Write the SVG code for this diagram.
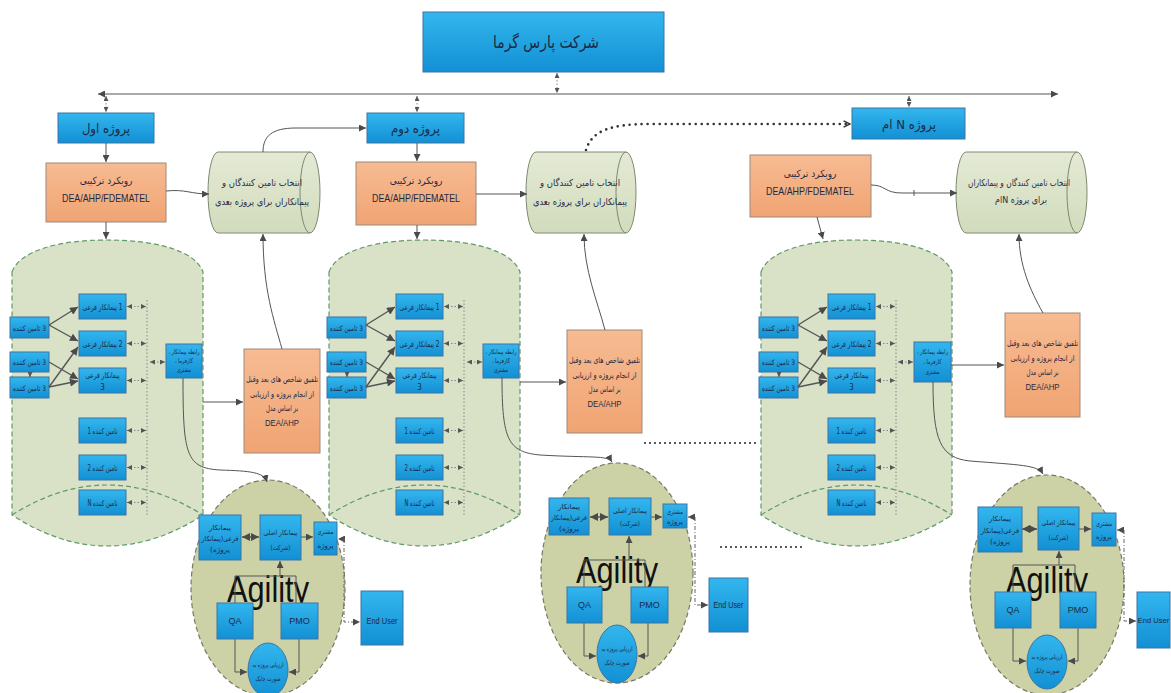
<svg xmlns="http://www.w3.org/2000/svg" width="1171" height="693" viewBox="0 0 1171 693">
<defs>
<linearGradient id="gBlue" x1="0" y1="0" x2="0" y2="1"><stop offset="0" stop-color="#33b6ee"/><stop offset="1" stop-color="#1290d4"/></linearGradient>
<linearGradient id="gOr" x1="0" y1="0" x2="0" y2="1"><stop offset="0" stop-color="#f7bb92"/><stop offset="1" stop-color="#f0a473"/></linearGradient>
<linearGradient id="gCy" x1="0" y1="0" x2="0" y2="1"><stop offset="0" stop-color="#e4ead5"/><stop offset="1" stop-color="#d2dbbc"/></linearGradient>
<marker id="ah" viewBox="0 0 10 10" refX="10" refY="5" markerWidth="7" markerHeight="7" markerUnits="userSpaceOnUse" orient="auto-start-reverse"><path d="M0,0 L10,5 L0,10 Z" fill="#4a4a4a"/></marker>
<marker id="ahB" viewBox="0 0 10 10" refX="10" refY="5" markerWidth="9" markerHeight="8" markerUnits="userSpaceOnUse" orient="auto-start-reverse"><path d="M0,0 L10,5 L0,10 Z" fill="#4a4a4a"/></marker>
<marker id="ahS" viewBox="0 0 10 10" refX="10" refY="5" markerWidth="5" markerHeight="5" markerUnits="userSpaceOnUse" orient="auto-start-reverse"><path d="M0,0 L10,5 L0,10 Z" fill="#555"/></marker>
<marker id="chev" viewBox="0 0 10 10" refX="9" refY="5" markerWidth="8" markerHeight="10" markerUnits="userSpaceOnUse" orient="auto"><path d="M1,1 L9,5 L1,9" fill="none" stroke="#333" stroke-width="1.8"/></marker>
<style>
.bx{fill:url(#gBlue);stroke:#3b74a3;stroke-width:1}
.or{fill:url(#gOr);stroke:#9c8a7c;stroke-width:1}
.cy{fill:url(#gCy);stroke:#7d8a72;stroke-width:1}
.gs{fill:#d9e1c7;stroke:#5f9a68;stroke-width:1.2;stroke-dasharray:5 3}
.ga{fill:none;stroke:#5f9a68;stroke-width:1.2;stroke-dasharray:5 3}
.ag{fill:#cdd2a6;stroke:#787868;stroke-width:1.2;stroke-dasharray:5 3}
.fa{font-family:'DejaVu Sans Condensed','DejaVu Sans','Noto Sans',sans-serif;fill:#1d2a44;text-anchor:middle}
.la{font-family:'Liberation Sans',Arial,sans-serif;fill:#1d2a44;text-anchor:middle}
.ln{fill:none;stroke:#555;stroke-width:1}
.th{fill:none;stroke:#555;stroke-width:1.4}
.dt{fill:none;stroke:#888;stroke-width:1;stroke-dasharray:1.5 2}
.dd{fill:none;stroke:#666;stroke-width:1;stroke-dasharray:4 2 1 2}
.bd{fill:none;stroke:#333;stroke-width:2.6;stroke-linecap:round;stroke-dasharray:0 6}
</style>
</defs>
<rect width="1171" height="693" fill="#ffffff"/>

<!-- clusters -->
<g id="cluster1">
 <path class="gs" d="M12,272 C20,250 60,240 107,240 C154,240 195,250 203,272 L203,515 Q107,577 12,515 Z"/>
 <path class="ga" d="M12,515 Q107,455 203,515"/>
 <path class="dt" d="M147,300 V515"/>
 <g id="c1-s3a"><rect class="bx" x="10" y="317" width="39" height="21"/><text class="fa" x="29.5" y="330.5" font-size="7.5" textLength="33" lengthAdjust="spacingAndGlyphs">تامین کننده&#x200E; 3</text></g>
 <g id="c1-s3b"><rect class="bx" x="10" y="352" width="39" height="20"/><text class="fa" x="29.5" y="365" font-size="7.5" textLength="33" lengthAdjust="spacingAndGlyphs">تامین کننده&#x200E; 3</text></g>
 <g id="c1-s3c"><rect class="bx" x="10" y="377" width="39" height="21"/><text class="fa" x="29.5" y="390.5" font-size="7.5" textLength="33" lengthAdjust="spacingAndGlyphs">تامین کننده&#x200E; 3</text></g>
 <g id="c1-p1"><rect class="bx" x="79" y="294" width="47" height="25"/><text class="fa" x="102.5" y="309.5" font-size="8" textLength="40" lengthAdjust="spacingAndGlyphs">پیمانکار فرعی&#x200E; 1</text></g>
 <g id="c1-p2"><rect class="bx" x="79" y="331" width="47" height="25"/><text class="fa" x="102.5" y="346.5" font-size="8" textLength="40" lengthAdjust="spacingAndGlyphs">پیمانکار فرعی&#x200E; 2</text></g>
 <g id="c1-p3"><rect class="bx" x="79" y="368" width="47" height="25"/><text class="fa" x="102.5" y="378" font-size="8" textLength="34" lengthAdjust="spacingAndGlyphs">پیمانکار فرعی</text><text class="fa" x="102.5" y="390" font-size="8">3</text></g>
 <g id="c1-t1"><rect class="bx" x="79" y="418" width="47" height="25"/><text class="fa" x="102.5" y="433.5" font-size="8" textLength="30" lengthAdjust="spacingAndGlyphs" direction="rtl">تامین کننده 1</text></g>
 <g id="c1-t2"><rect class="bx" x="79" y="455" width="47" height="25"/><text class="fa" x="102.5" y="470.5" font-size="8" textLength="30" lengthAdjust="spacingAndGlyphs" direction="rtl">تامین کننده 2</text></g>
 <g id="c1-tn"><rect class="bx" x="79" y="490" width="47" height="25"/><text class="fa" x="102.5" y="505.5" font-size="8" textLength="30" lengthAdjust="spacingAndGlyphs" direction="rtl">تامین کننده N</text></g>
 <g id="c1-rel"><rect class="bx" x="166" y="344" width="36" height="34"/><text class="fa" x="184" y="354" font-size="6.5" textLength="31" lengthAdjust="spacingAndGlyphs" direction="rtl">رابطه پیمانکار ،</text><text class="fa" x="184" y="363" font-size="6.5" textLength="18" lengthAdjust="spacingAndGlyphs" direction="rtl">کارفرما ،</text><text class="fa" x="184" y="372" font-size="6.5" textLength="14" lengthAdjust="spacingAndGlyphs">مشتری</text></g>
 <g id="c1-links">
  <path class="th" marker-end="url(#ahB)" d="M49,325 L78,307"/>
  <path class="th" marker-end="url(#ahB)" d="M49,325 L78,341"/>
  <path class="th" marker-end="url(#ahB)" d="M49,362 L78,379"/>
  <path class="th" marker-end="url(#ahB)" d="M49,387 L78,347"/>
  <path class="th" marker-end="url(#ahB)" d="M49,387 L78,381"/>
  <path class="ln" marker-end="url(#ahS)" d="M30,372 V377"/>
  <path class="dt" marker-start="url(#ahS)" marker-end="url(#ahS)" d="M127,306.5 H146"/>
  <path class="dt" marker-start="url(#ahS)" marker-end="url(#ahS)" d="M127,343.5 H146"/>
  <path class="dt" marker-start="url(#ahS)" marker-end="url(#ahS)" d="M127,380.5 H146"/>
  <path class="dt" marker-start="url(#ahS)" marker-end="url(#ahS)" d="M127,430.5 H146"/>
  <path class="dt" marker-start="url(#ahS)" marker-end="url(#ahS)" d="M127,467.5 H146"/>
  <path class="dt" marker-start="url(#ahS)" marker-end="url(#ahS)" d="M127,502.5 H146"/>
  <path class="dt" marker-start="url(#ahS)" marker-end="url(#ahS)" d="M150,362 H165"/>
 </g>
</g>

<g id="cluster2" transform="translate(317,0)">
 <path class="gs" d="M12,272 C20,250 60,240 107,240 C154,240 195,250 203,272 L203,515 Q107,577 12,515 Z"/>
 <path class="ga" d="M12,515 Q107,455 203,515"/>
 <path class="dt" d="M147,300 V515"/>
 <g id="c2-s3a"><rect class="bx" x="10" y="317" width="39" height="21"/><text class="fa" x="29.5" y="330.5" font-size="7.5" textLength="33" lengthAdjust="spacingAndGlyphs">تامین کننده&#x200E; 3</text></g>
 <g id="c2-s3b"><rect class="bx" x="10" y="352" width="39" height="20"/><text class="fa" x="29.5" y="365" font-size="7.5" textLength="33" lengthAdjust="spacingAndGlyphs">تامین کننده&#x200E; 3</text></g>
 <g id="c2-s3c"><rect class="bx" x="10" y="377" width="39" height="21"/><text class="fa" x="29.5" y="390.5" font-size="7.5" textLength="33" lengthAdjust="spacingAndGlyphs">تامین کننده&#x200E; 3</text></g>
 <g id="c2-p1"><rect class="bx" x="79" y="294" width="47" height="25"/><text class="fa" x="102.5" y="309.5" font-size="8" textLength="40" lengthAdjust="spacingAndGlyphs">پیمانکار فرعی&#x200E; 1</text></g>
 <g id="c2-p2"><rect class="bx" x="79" y="331" width="47" height="25"/><text class="fa" x="102.5" y="346.5" font-size="8" textLength="40" lengthAdjust="spacingAndGlyphs">پیمانکار فرعی&#x200E; 2</text></g>
 <g id="c2-p3"><rect class="bx" x="79" y="368" width="47" height="25"/><text class="fa" x="102.5" y="378" font-size="8" textLength="34" lengthAdjust="spacingAndGlyphs">پیمانکار فرعی</text><text class="fa" x="102.5" y="390" font-size="8">3</text></g>
 <g id="c2-t1"><rect class="bx" x="79" y="418" width="47" height="25"/><text class="fa" x="102.5" y="433.5" font-size="8" textLength="30" lengthAdjust="spacingAndGlyphs" direction="rtl">تامین کننده 1</text></g>
 <g id="c2-t2"><rect class="bx" x="79" y="455" width="47" height="25"/><text class="fa" x="102.5" y="470.5" font-size="8" textLength="30" lengthAdjust="spacingAndGlyphs" direction="rtl">تامین کننده 2</text></g>
 <g id="c2-tn"><rect class="bx" x="79" y="490" width="47" height="25"/><text class="fa" x="102.5" y="505.5" font-size="8" textLength="30" lengthAdjust="spacingAndGlyphs" direction="rtl">تامین کننده N</text></g>
 <g id="c2-rel"><rect class="bx" x="166" y="344" width="36" height="34"/><text class="fa" x="184" y="354" font-size="6.5" textLength="31" lengthAdjust="spacingAndGlyphs" direction="rtl">رابطه پیمانکار ،</text><text class="fa" x="184" y="363" font-size="6.5" textLength="18" lengthAdjust="spacingAndGlyphs" direction="rtl">کارفرما ،</text><text class="fa" x="184" y="372" font-size="6.5" textLength="14" lengthAdjust="spacingAndGlyphs">مشتری</text></g>
 <g id="c2-links">
  <path class="th" marker-end="url(#ahB)" d="M49,325 L78,307"/>
  <path class="th" marker-end="url(#ahB)" d="M49,325 L78,341"/>
  <path class="th" marker-end="url(#ahB)" d="M49,362 L78,379"/>
  <path class="th" marker-end="url(#ahB)" d="M49,387 L78,347"/>
  <path class="th" marker-end="url(#ahB)" d="M49,387 L78,381"/>
  <path class="ln" marker-end="url(#ahS)" d="M30,372 V377"/>
  <path class="dt" marker-start="url(#ahS)" marker-end="url(#ahS)" d="M127,306.5 H146"/>
  <path class="dt" marker-start="url(#ahS)" marker-end="url(#ahS)" d="M127,343.5 H146"/>
  <path class="dt" marker-start="url(#ahS)" marker-end="url(#ahS)" d="M127,380.5 H146"/>
  <path class="dt" marker-start="url(#ahS)" marker-end="url(#ahS)" d="M127,430.5 H146"/>
  <path class="dt" marker-start="url(#ahS)" marker-end="url(#ahS)" d="M127,467.5 H146"/>
  <path class="dt" marker-start="url(#ahS)" marker-end="url(#ahS)" d="M127,502.5 H146"/>
  <path class="dt" marker-start="url(#ahS)" marker-end="url(#ahS)" d="M150,362 H165"/>
 </g>
</g>

<g id="cluster3" transform="translate(749,0)">
 <path class="gs" d="M12,272 C20,250 60,240 107,240 C154,240 195,250 203,272 L203,515 Q107,577 12,515 Z"/>
 <path class="ga" d="M12,515 Q107,455 203,515"/>
 <path class="dt" d="M147,300 V515"/>
 <g id="c3-s3a"><rect class="bx" x="10" y="317" width="39" height="21"/><text class="fa" x="29.5" y="330.5" font-size="7.5" textLength="33" lengthAdjust="spacingAndGlyphs">تامین کننده&#x200E; 3</text></g>
 <g id="c3-s3b"><rect class="bx" x="10" y="352" width="39" height="20"/><text class="fa" x="29.5" y="365" font-size="7.5" textLength="33" lengthAdjust="spacingAndGlyphs">تامین کننده&#x200E; 3</text></g>
 <g id="c3-s3c"><rect class="bx" x="10" y="377" width="39" height="21"/><text class="fa" x="29.5" y="390.5" font-size="7.5" textLength="33" lengthAdjust="spacingAndGlyphs">تامین کننده&#x200E; 3</text></g>
 <g id="c3-p1"><rect class="bx" x="79" y="294" width="47" height="25"/><text class="fa" x="102.5" y="309.5" font-size="8" textLength="40" lengthAdjust="spacingAndGlyphs">پیمانکار فرعی&#x200E; 1</text></g>
 <g id="c3-p2"><rect class="bx" x="79" y="331" width="47" height="25"/><text class="fa" x="102.5" y="346.5" font-size="8" textLength="40" lengthAdjust="spacingAndGlyphs">پیمانکار فرعی&#x200E; 2</text></g>
 <g id="c3-p3"><rect class="bx" x="79" y="368" width="47" height="25"/><text class="fa" x="102.5" y="378" font-size="8" textLength="34" lengthAdjust="spacingAndGlyphs">پیمانکار فرعی</text><text class="fa" x="102.5" y="390" font-size="8">3</text></g>
 <g id="c3-t1"><rect class="bx" x="79" y="418" width="47" height="25"/><text class="fa" x="102.5" y="433.5" font-size="8" textLength="30" lengthAdjust="spacingAndGlyphs" direction="rtl">تامین کننده 1</text></g>
 <g id="c3-t2"><rect class="bx" x="79" y="455" width="47" height="25"/><text class="fa" x="102.5" y="470.5" font-size="8" textLength="30" lengthAdjust="spacingAndGlyphs" direction="rtl">تامین کننده 2</text></g>
 <g id="c3-tn"><rect class="bx" x="79" y="490" width="47" height="25"/><text class="fa" x="102.5" y="505.5" font-size="8" textLength="30" lengthAdjust="spacingAndGlyphs" direction="rtl">تامین کننده N</text></g>
 <g id="c3-rel"><rect class="bx" x="165" y="342" width="37" height="40"/><text class="fa" x="183.5" y="354" font-size="6.5" textLength="31" lengthAdjust="spacingAndGlyphs" direction="rtl">رابطه پیمانکار ،</text><text class="fa" x="183.5" y="364" font-size="6.5" textLength="18" lengthAdjust="spacingAndGlyphs" direction="rtl">کارفرما ،</text><text class="fa" x="183.5" y="374" font-size="6.5" textLength="14" lengthAdjust="spacingAndGlyphs">مشتری</text></g>
 <g id="c3-links">
  <path class="th" marker-end="url(#ahB)" d="M49,325 L78,307"/>
  <path class="th" marker-end="url(#ahB)" d="M49,325 L78,341"/>
  <path class="th" marker-end="url(#ahB)" d="M49,362 L78,379"/>
  <path class="th" marker-end="url(#ahB)" d="M49,387 L78,347"/>
  <path class="th" marker-end="url(#ahB)" d="M49,387 L78,381"/>
  <path class="ln" marker-end="url(#ahS)" d="M30,372 V377"/>
  <path class="dt" marker-start="url(#ahS)" marker-end="url(#ahS)" d="M127,306.5 H146"/>
  <path class="dt" marker-start="url(#ahS)" marker-end="url(#ahS)" d="M127,343.5 H146"/>
  <path class="dt" marker-start="url(#ahS)" marker-end="url(#ahS)" d="M127,380.5 H146"/>
  <path class="dt" marker-start="url(#ahS)" marker-end="url(#ahS)" d="M127,430.5 H146"/>
  <path class="dt" marker-start="url(#ahS)" marker-end="url(#ahS)" d="M127,467.5 H146"/>
  <path class="dt" marker-start="url(#ahS)" marker-end="url(#ahS)" d="M127,502.5 H146"/>
  <path class="dt" marker-start="url(#ahS)" marker-end="url(#ahS)" d="M149,362 H164"/>
 </g>
</g>

<!-- agility ellipses -->
<g id="agility1" transform="translate(268,482)">
 <ellipse class="ag" cx="0" cy="106" rx="77" ry="108"/>
 <text class="la" x="0" y="120" font-size="36" style="fill:#111" textLength="82" lengthAdjust="spacingAndGlyphs">Agility</text>
 <path class="ln" d="M-33,121 V94 H28 V121"/>
 <path class="ln" marker-end="url(#ah)" d="M12,94 V79"/>
 <path class="ln" marker-end="url(#ah)" d="M-33,157 V190 H-21"/>
 <path class="ln" marker-end="url(#ah)" d="M31,157 V190 H21"/>
 <path class="th" marker-start="url(#ahB)" marker-end="url(#ahB)" d="M-26,55 H-9"/>
 <path class="ln" marker-end="url(#ah)" d="M33,55 H45"/>
 <path class="dd" marker-end="url(#ah)" d="M76,57 H70"/>
 <path class="dd" marker-end="url(#ah)" d="M76,57 V140 H92"/>
 <g id="a1-sub"><rect class="bx" x="-69" y="33" width="42" height="45"/><text class="fa" x="-48" y="47.5" font-size="7" textLength="22" lengthAdjust="spacingAndGlyphs">پیمانکار</text><text class="fa" x="-48" y="58.5" font-size="7" textLength="37" lengthAdjust="spacingAndGlyphs" direction="rtl">فرعی(پیمانکار</text><text class="fa" x="-48" y="69.5" font-size="7" textLength="20" lengthAdjust="spacingAndGlyphs" direction="rtl">پروژه)</text></g>
 <g id="a1-main"><rect class="bx" x="-8" y="33" width="41" height="45"/><text class="fa" x="12.5" y="52.5" font-size="7" textLength="34" lengthAdjust="spacingAndGlyphs">پیمانکار اصلی</text><text class="fa" x="12.5" y="67.5" font-size="7" textLength="20" lengthAdjust="spacingAndGlyphs" direction="rtl">(شرکت)</text></g>
 <g id="a1-cust"><rect class="bx" x="46" y="40" width="23" height="33"/><text class="fa" x="57.5" y="52" font-size="7" textLength="16" lengthAdjust="spacingAndGlyphs">مشتری</text><text class="fa" x="57.5" y="65.5" font-size="7" textLength="16" lengthAdjust="spacingAndGlyphs">پروژه</text></g>
 <g id="a1-qa"><rect class="bx" x="-51" y="121" width="36" height="36"/><text class="la" x="-33" y="142" font-size="9">QA</text></g>
 <g id="a1-pmo"><rect class="bx" x="13" y="121" width="37" height="36"/><text class="la" x="31.5" y="142" font-size="9">PMO</text></g>
 <g id="a1-eval"><ellipse class="bx" cx="0" cy="188" rx="20" ry="27"/><text class="fa" x="0" y="185" font-size="6.5" textLength="31" lengthAdjust="spacingAndGlyphs">ارزیابی پروژه به</text><text class="fa" x="0" y="199" font-size="6.5" textLength="25" lengthAdjust="spacingAndGlyphs">صورت چابک</text></g>
 <g id="a1-enduser"><rect class="bx" x="93" y="109" width="42" height="54"/><text class="la" x="114" y="142" font-size="9" textLength="31" lengthAdjust="spacingAndGlyphs">End User</text></g>
</g>

<g id="agility2" transform="translate(617,463)">
 <ellipse class="ag" cx="0" cy="110" rx="76" ry="110"/>
 <text class="la" x="0" y="120" font-size="36" style="fill:#111" textLength="82" lengthAdjust="spacingAndGlyphs">Agility</text>
 <path class="ln" d="M-33,124 V97 H28 V124"/>
 <path class="ln" marker-end="url(#ah)" d="M12,97 V73"/>
 <path class="ln" marker-end="url(#ah)" d="M-33,160 V193 H-21"/>
 <path class="ln" marker-end="url(#ah)" d="M31,160 V193 H21"/>
 <path class="th" marker-start="url(#ahB)" marker-end="url(#ahB)" d="M-27,54 H-9"/>
 <path class="ln" marker-end="url(#ah)" d="M34,54 H45"/>
 <path class="dd" marker-end="url(#ah)" d="M78,54 H71"/>
 <path class="dd" marker-end="url(#ah)" d="M78,54 V142 H91"/>
 <g id="a2-sub"><rect class="bx" x="-68" y="35" width="40" height="37"/><text class="fa" x="-48" y="46" font-size="7" textLength="22" lengthAdjust="spacingAndGlyphs">پیمانکار</text><text class="fa" x="-48" y="57" font-size="7" textLength="36" lengthAdjust="spacingAndGlyphs" direction="rtl">فرعی(پیمانکار</text><text class="fa" x="-48" y="68" font-size="7" textLength="20" lengthAdjust="spacingAndGlyphs" direction="rtl">پروژه)</text></g>
 <g id="a2-main"><rect class="bx" x="-8" y="35" width="42" height="37"/><text class="fa" x="13" y="50" font-size="7" textLength="34" lengthAdjust="spacingAndGlyphs">پیمانکار اصلی</text><text class="fa" x="13" y="63" font-size="7" textLength="20" lengthAdjust="spacingAndGlyphs" direction="rtl">(شرکت)</text></g>
 <g id="a2-cust"><rect class="bx" x="46" y="41" width="24" height="24"/><text class="fa" x="58" y="51" font-size="7" textLength="16" lengthAdjust="spacingAndGlyphs">مشتری</text><text class="fa" x="58" y="61" font-size="7" textLength="16" lengthAdjust="spacingAndGlyphs">پروژه</text></g>
 <g id="a2-qa"><rect class="bx" x="-50" y="124" width="35" height="36"/><text class="la" x="-32.5" y="145" font-size="9">QA</text></g>
 <g id="a2-pmo"><rect class="bx" x="14" y="124" width="37" height="36"/><text class="la" x="32.5" y="145" font-size="9">PMO</text></g>
 <g id="a2-eval"><ellipse class="bx" cx="0" cy="191" rx="20" ry="29"/><text class="fa" x="0" y="188" font-size="6.5" textLength="31" lengthAdjust="spacingAndGlyphs">ارزیابی پروژه به</text><text class="fa" x="0" y="202" font-size="6.5" textLength="25" lengthAdjust="spacingAndGlyphs">صورت چابک</text></g>
 <g id="a2-enduser"><rect class="bx" x="92" y="115" width="39" height="54"/><text class="la" x="111.5" y="145" font-size="9" textLength="30" lengthAdjust="spacingAndGlyphs">End User</text></g>
</g>

<g id="agility3" transform="translate(1047,475)">
 <ellipse class="ag" cx="0" cy="110" rx="77" ry="110"/>
 <text class="la" x="0" y="118" font-size="36" style="fill:#111" textLength="82" lengthAdjust="spacingAndGlyphs">Agility</text>
 <path class="ln" d="M-34,117 V90 H28 V117"/>
 <path class="ln" marker-end="url(#ah)" d="M12,90 V76"/>
 <path class="ln" marker-end="url(#ah)" d="M-34,153 V186 H-21"/>
 <path class="ln" marker-end="url(#ah)" d="M31,153 V186 H21"/>
 <path class="th" marker-start="url(#ahB)" marker-end="url(#ahB)" d="M-25,54 H-10"/>
 <path class="ln" marker-end="url(#ah)" d="M32,54 H44"/>
 <path class="dd" marker-end="url(#ah)" d="M77,55 H70"/>
 <path class="dd" marker-end="url(#ah)" d="M77,55 V146 H89"/>
 <g id="a3-sub"><rect class="bx" x="-69" y="32" width="44" height="45"/><text class="fa" x="-47" y="46" font-size="7" textLength="22" lengthAdjust="spacingAndGlyphs">پیمانکار</text><text class="fa" x="-47" y="57.5" font-size="7" textLength="38" lengthAdjust="spacingAndGlyphs" direction="rtl">فرعی(پیمانکار</text><text class="fa" x="-47" y="69" font-size="7" textLength="20" lengthAdjust="spacingAndGlyphs" direction="rtl">پروژه)</text></g>
 <g id="a3-main"><rect class="bx" x="-9" y="32" width="41" height="43"/><text class="fa" x="11.5" y="50" font-size="7" textLength="34" lengthAdjust="spacingAndGlyphs">پیمانکار اصلی</text><text class="fa" x="11.5" y="65" font-size="7" textLength="20" lengthAdjust="spacingAndGlyphs" direction="rtl">(شرکت)</text></g>
 <g id="a3-cust"><rect class="bx" x="45" y="38" width="24" height="33"/><text class="fa" x="57" y="51" font-size="7" textLength="16" lengthAdjust="spacingAndGlyphs">مشتری</text><text class="fa" x="57" y="64" font-size="7" textLength="16" lengthAdjust="spacingAndGlyphs">پروژه</text></g>
 <g id="a3-qa"><rect class="bx" x="-52" y="117" width="36" height="36"/><text class="la" x="-34" y="138" font-size="9">QA</text></g>
 <g id="a3-pmo"><rect class="bx" x="13" y="117" width="36" height="36"/><text class="la" x="31" y="138" font-size="9">PMO</text></g>
 <g id="a3-eval"><ellipse class="bx" cx="0" cy="187" rx="20" ry="27"/><text class="fa" x="0" y="184" font-size="6.5" textLength="31" lengthAdjust="spacingAndGlyphs">ارزیابی پروژه به</text><text class="fa" x="0" y="198" font-size="6.5" textLength="25" lengthAdjust="spacingAndGlyphs">صورت چابک</text></g>
 <g id="a3-enduser"><rect class="bx" x="90" y="117" width="33" height="56"/><text class="la" x="106.5" y="148" font-size="7.5">End User</text></g>
</g>

<!-- top nodes -->
<g id="title"><rect class="bx" x="423" y="12" width="241" height="60"/><text class="fa" x="546" y="48" font-size="17" textLength="106" lengthAdjust="spacingAndGlyphs">شرکت پارس گرما</text></g>
<g id="proj1"><rect class="bx" x="58" y="113" width="96" height="30"/><text class="fa" x="106" y="132.5" font-size="13">پروژه اول</text></g>
<g id="proj2"><rect class="bx" x="367" y="113" width="97" height="30"/><text class="fa" x="415.5" y="132.5" font-size="13">پروژه دوم</text></g>
<g id="projN"><rect class="bx" x="852" y="108" width="113" height="31"/><text class="fa" x="909" y="128.5" font-size="13" direction="rtl">پروژه  N ام</text></g>

<g id="approach1"><rect class="or" x="46" y="163" width="120" height="59"/><text class="fa" x="106" y="184" font-size="10">رویکرد ترکیبی</text><text class="la" x="106" y="202" font-size="10.5" textLength="88" lengthAdjust="spacingAndGlyphs">DEA/AHP/FDEMATEL</text></g>
<g id="approach2"><rect class="or" x="356" y="162" width="120" height="63"/><text class="fa" x="416" y="184" font-size="10">رویکرد ترکیبی</text><text class="la" x="416" y="202" font-size="10.5" textLength="88" lengthAdjust="spacingAndGlyphs">DEA/AHP/FDEMATEL</text></g>
<g id="approach3"><rect class="or" x="750" y="155" width="121" height="62"/><text class="fa" x="810" y="177" font-size="10">رویکرد ترکیبی</text><text class="la" x="810" y="195" font-size="10.5" textLength="88" lengthAdjust="spacingAndGlyphs">DEA/AHP/FDEMATEL</text></g>

<g id="select1"><path class="cy" d="M218,152 H310 A10,40.5 0 0,1 310,233 H218 A10,40.5 0 0,1 218,152 Z"/><path class="ln" style="stroke:#7d8a72" d="M310,152 A10,40.5 0 0,0 310,233"/><text class="fa" x="262" y="186" font-size="9.5" textLength="80" lengthAdjust="spacingAndGlyphs" direction="rtl">انتخاب تامین کنندگان و</text><text class="fa" x="262" y="205" font-size="9.5" textLength="94" lengthAdjust="spacingAndGlyphs">پیمانکاران برای پروژه بعدی</text></g>
<g id="select2"><path class="cy" d="M536,152 H626 A10,40.5 0 0,1 626,233 H536 A10,40.5 0 0,1 536,152 Z"/><path class="ln" style="stroke:#7d8a72" d="M626,152 A10,40.5 0 0,0 626,233"/><text class="fa" x="580" y="186" font-size="9.5" textLength="80" lengthAdjust="spacingAndGlyphs" direction="rtl">انتخاب تامین کنندگان و</text><text class="fa" x="580" y="205" font-size="9.5" textLength="94" lengthAdjust="spacingAndGlyphs">پیمانکاران برای پروژه بعدی</text></g>
<g id="selectN"><path class="cy" d="M966,152 H1077 A10,40.5 0 0,1 1077,233 H966 A10,40.5 0 0,1 966,152 Z"/><path class="ln" style="stroke:#7d8a72" d="M1077,152 A10,40.5 0 0,0 1077,233"/><text class="fa" x="1019" y="186" font-size="9.5" textLength="102" lengthAdjust="spacingAndGlyphs">انتخاب تامین کنندگان و پیمانکاران</text><text class="fa" x="1021" y="203" font-size="9.5" textLength="52" lengthAdjust="spacingAndGlyphs" direction="rtl">برای پروژه Nام</text></g>

<g id="merge1"><rect class="or" x="244" y="349" width="76" height="104"/><text class="fa" x="282" y="382" font-size="8.5" textLength="72" lengthAdjust="spacingAndGlyphs">تلفیق شاخص های بعد وقبل</text><text class="fa" x="282" y="397" font-size="8.5" textLength="64" lengthAdjust="spacingAndGlyphs">از انجام پروژه و ارزیابی</text><text class="fa" x="282" y="411" font-size="8.5" textLength="32" lengthAdjust="spacingAndGlyphs">بر اساس مدل</text><text class="la" x="282" y="426" font-size="9.5" textLength="34" lengthAdjust="spacingAndGlyphs">DEA/AHP</text></g>
<g id="merge2"><rect class="or" x="567" y="330" width="75" height="103"/><text class="fa" x="604.5" y="363" font-size="8.5" textLength="71" lengthAdjust="spacingAndGlyphs">تلفیق شاخص های بعد وقبل</text><text class="fa" x="604.5" y="378" font-size="8.5" textLength="64" lengthAdjust="spacingAndGlyphs">از انجام پروژه و ارزیابی</text><text class="fa" x="604.5" y="392" font-size="8.5" textLength="32" lengthAdjust="spacingAndGlyphs">بر اساس مدل</text><text class="la" x="604.5" y="407" font-size="9.5" textLength="34" lengthAdjust="spacingAndGlyphs">DEA/AHP</text></g>
<g id="mergeN"><rect class="or" x="1005" y="313" width="75" height="104"/><text class="fa" x="1042.5" y="346" font-size="8.5" textLength="71" lengthAdjust="spacingAndGlyphs">تلفیق شاخص های بعد وقبل</text><text class="fa" x="1042.5" y="361" font-size="8.5" textLength="64" lengthAdjust="spacingAndGlyphs">از انجام پروژه و ارزیابی</text><text class="fa" x="1042.5" y="375" font-size="8.5" textLength="32" lengthAdjust="spacingAndGlyphs">بر اساس مدل</text><text class="la" x="1042.5" y="390" font-size="9.5" textLength="34" lengthAdjust="spacingAndGlyphs">DEA/AHP</text></g>

<!-- connectors -->
<g id="connectors">
 <path class="ln" marker-start="url(#ah)" marker-end="url(#ah)" d="M98,94 H1058"/>
 <path class="dt" marker-start="url(#ahS)" marker-end="url(#ahS)" d="M557,73 V93"/>
 <path class="dt" marker-start="url(#ahS)" marker-end="url(#ahS)" d="M106,96 V112"/>
 <path class="dt" marker-start="url(#ahS)" marker-end="url(#ahS)" d="M417,96 V112"/>
 <path class="dt" marker-start="url(#ahS)" marker-end="url(#ahS)" d="M909,96 V107"/>
 <path class="ln" marker-end="url(#ah)" d="M106,143 V162"/>
 <path class="ln" marker-end="url(#ah)" d="M417,143 V161"/>
 <path class="ln" marker-end="url(#ah)" d="M106,222 V239"/>
 <path class="ln" marker-end="url(#ah)" d="M417,225 V239"/>
 <path class="ln" marker-end="url(#ah)" d="M817,217 L823,239"/>
 <path class="ln" marker-end="url(#ah)" d="M166,191 C186,189 190,194 209,194"/>
 <path class="ln" marker-end="url(#ah)" d="M263,152 C263,136 272,128 296,128 H366"/>
 <path class="ln" marker-end="url(#ah)" d="M476,194 H527"/>
 <path class="bd" marker-end="url(#chev)" d="M586,150 C592,130 612,124 650,124 H850"/>
 <path class="ln" marker-end="url(#ah)" d="M871,185 C886,185 884,193 902,193 H957"/>
 <path class="ln" d="M914,190 V196"/>
 <path class="ln" marker-end="url(#ah)" d="M282,349 C274,320 263,290 263,234"/>
 <path class="ln" marker-end="url(#ah)" d="M605,330 C597,300 584,270 584,234"/>
 <path class="ln" marker-end="url(#ah)" d="M1043,313 C1030,290 1019,265 1019,234"/>
 <path class="ln" marker-end="url(#ah)" d="M203,402 H243"/>
 <path class="ln" marker-end="url(#ah)" d="M520,382 H566"/>
 <path class="ln" marker-end="url(#ah)" d="M951,365 H1004"/>
 <path class="ln" marker-end="url(#ah)" d="M183,378 C183,455 186,468 220,470 C250,471 264,472 267,482"/>
 <path class="ln" marker-end="url(#ah)" d="M502,377 C502,440 508,452 540,455 C590,458 608,455 612,462"/>
 <path class="ln" marker-end="url(#ah)" d="M933,382 C933,440 940,458 970,461 C1020,465 1038,465 1043,474"/>
 <path class="bd" style="stroke-width:2.2;stroke-dasharray:0 5" d="M645,443 H758"/>
 <path class="bd" style="stroke-width:2.2;stroke-dasharray:0 5" d="M721,547 H802"/>
</g>
</svg>
